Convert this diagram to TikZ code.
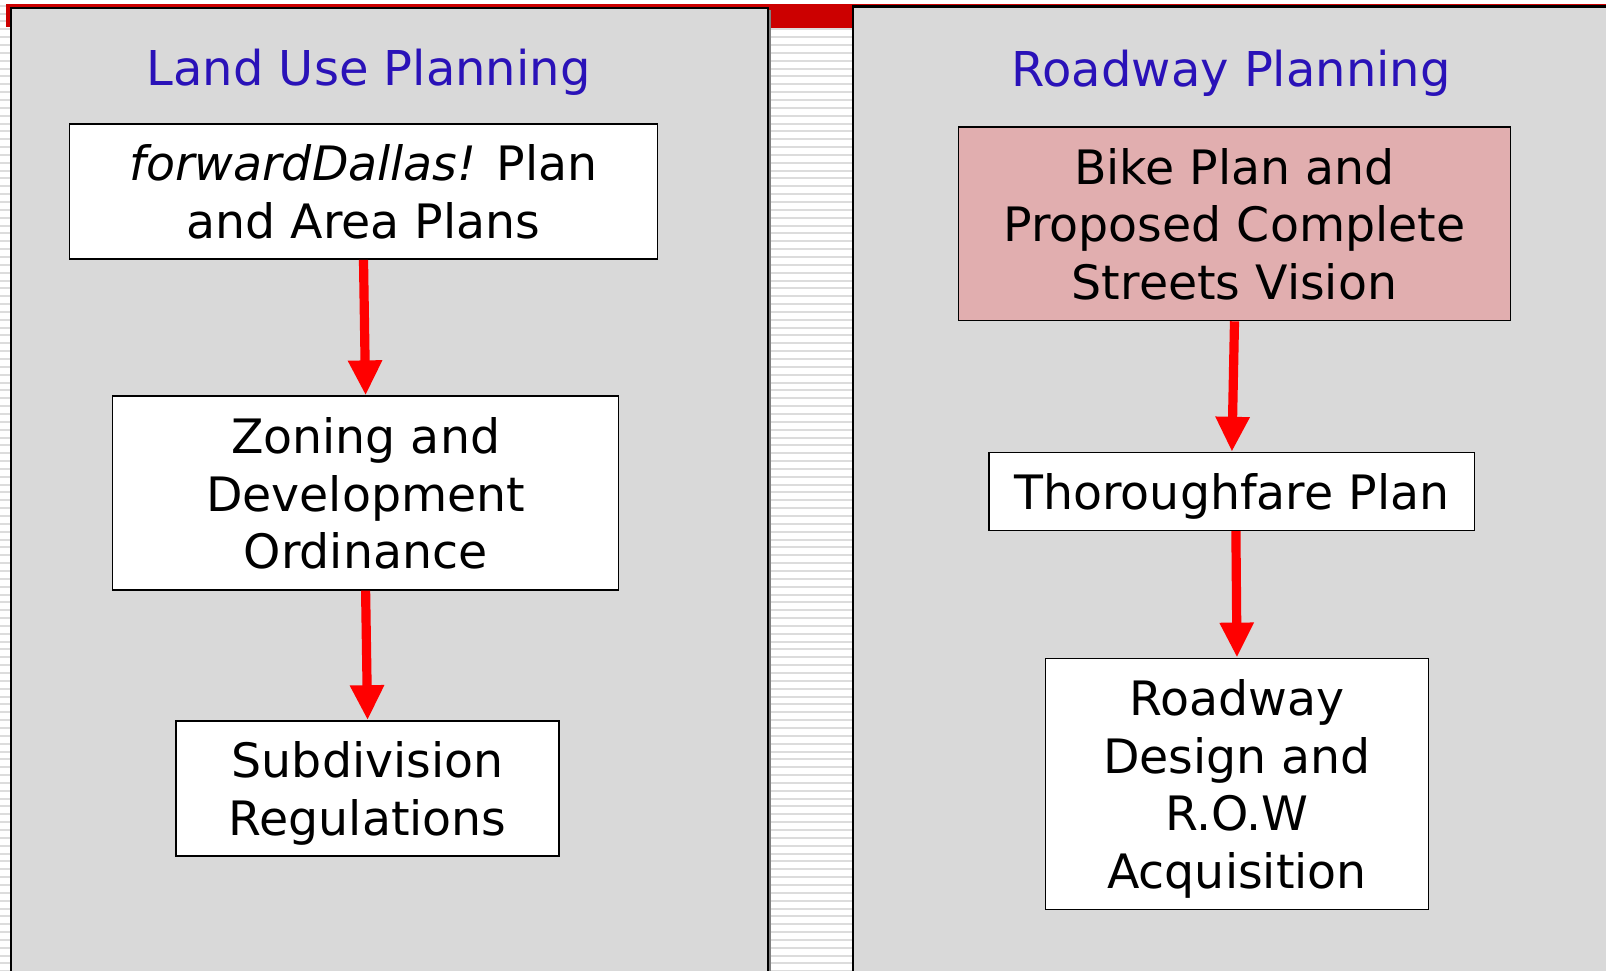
\documentclass[tikz,border=0pt]{standalone}
\usepackage{fontspec}
\setmainfont{DejaVu Sans}
\usetikzlibrary{arrows.meta}
\definecolor{panelgray}{RGB}{217,217,217}
\definecolor{stripegray}{RGB}{220,220,220}
\definecolor{topred}{RGB}{204,0,0}
\definecolor{titleblue}{RGB}{42,18,184}
\definecolor{boxpink}{RGB}{225,174,175}
\definecolor{arrowred}{RGB}{255,0,0}
\begin{document}
\begin{tikzpicture}[x=0.5pt,y=-0.5pt,
  box/.style={draw=black,line width=0.8pt,fill=white,inner sep=0pt,align=center,
    text depth=-2pt,font=\fontsize{23.7}{28.7}\selectfont},
  ptitle/.style={text=titleblue,font=\fontsize{24}{29}\selectfont,inner sep=0pt},
  flow/.style={draw=arrowred,line width=4.6pt,-{Triangle[width=16pt,length=17.5pt]}}]
\useasboundingbox (0,0) rectangle (1606,970);
\clip (0,0) rectangle (1606,970);
\fill[white] (0,0) rectangle (1606,970);
\foreach \k in {0,...,124} {
  \fill[stripegray] (0,{5.75+7.85*\k-1}) rectangle (1606,{5.75+7.85*\k+1});
}
% red top frame
\fill[topred] (6,3.5) rectangle (1606,6.5);
\fill[topred] (6,3.5) rectangle (10,27);
\fill[topred] (769,3.5) rectangle (852,28);
% panels
\draw[fill=panelgray,line width=1pt] (10.5,8) rectangle (768,990);
\draw[fill=panelgray,line width=1.2pt] (853,6.5) rectangle (1620,990);
\draw[gray,line width=0.6pt] (770,10) -- (770,990);
% titles
\node[ptitle] (t1) at (368.6,72.6) {Land Use Planning};
\node[ptitle] (t2) at (1231,73.6) {Roadway Planning};
% left column
\node[box,minimum width=294pt,minimum height=67.6pt] (b1) at (363.5,191.5)
  {\textit{forwardDallas!} Plan\\and Area Plans};
\node[box,minimum width=253pt,minimum height=96.8pt] (b2) at (365.6,493)
  {Zoning and\\Development\\Ordinance};
\node[box,minimum width=191.5pt,minimum height=67.5pt] (b3) at (367.6,788.5)
  {Subdivision\\Regulations};
% right column
\node[box,fill=boxpink,minimum width=276pt,minimum height=96.8pt] (b4) at (1234.5,223.7)
  {Bike Plan and\\Proposed Complete\\Streets Vision};
\node[box,minimum width=242.7pt,minimum height=38.9pt] (b5) at (1231.9,491.5)
  {Thoroughfare Plan};
\node[box,minimum width=191.5pt,minimum height=125.5pt] (b6) at (1237,783.9)
  {Roadway\\Design and\\R.O.W\\Acquisition};
% connectors
\draw[flow] (b1.south) -- (b2.north);
\draw[flow] (b2.south) -- (b3.north);
\draw[flow] (b4.south) -- (b5.north);
\draw[flow] ([xshift=2pt]b5.south) -- (b6.north);
\end{tikzpicture}
\end{document}
